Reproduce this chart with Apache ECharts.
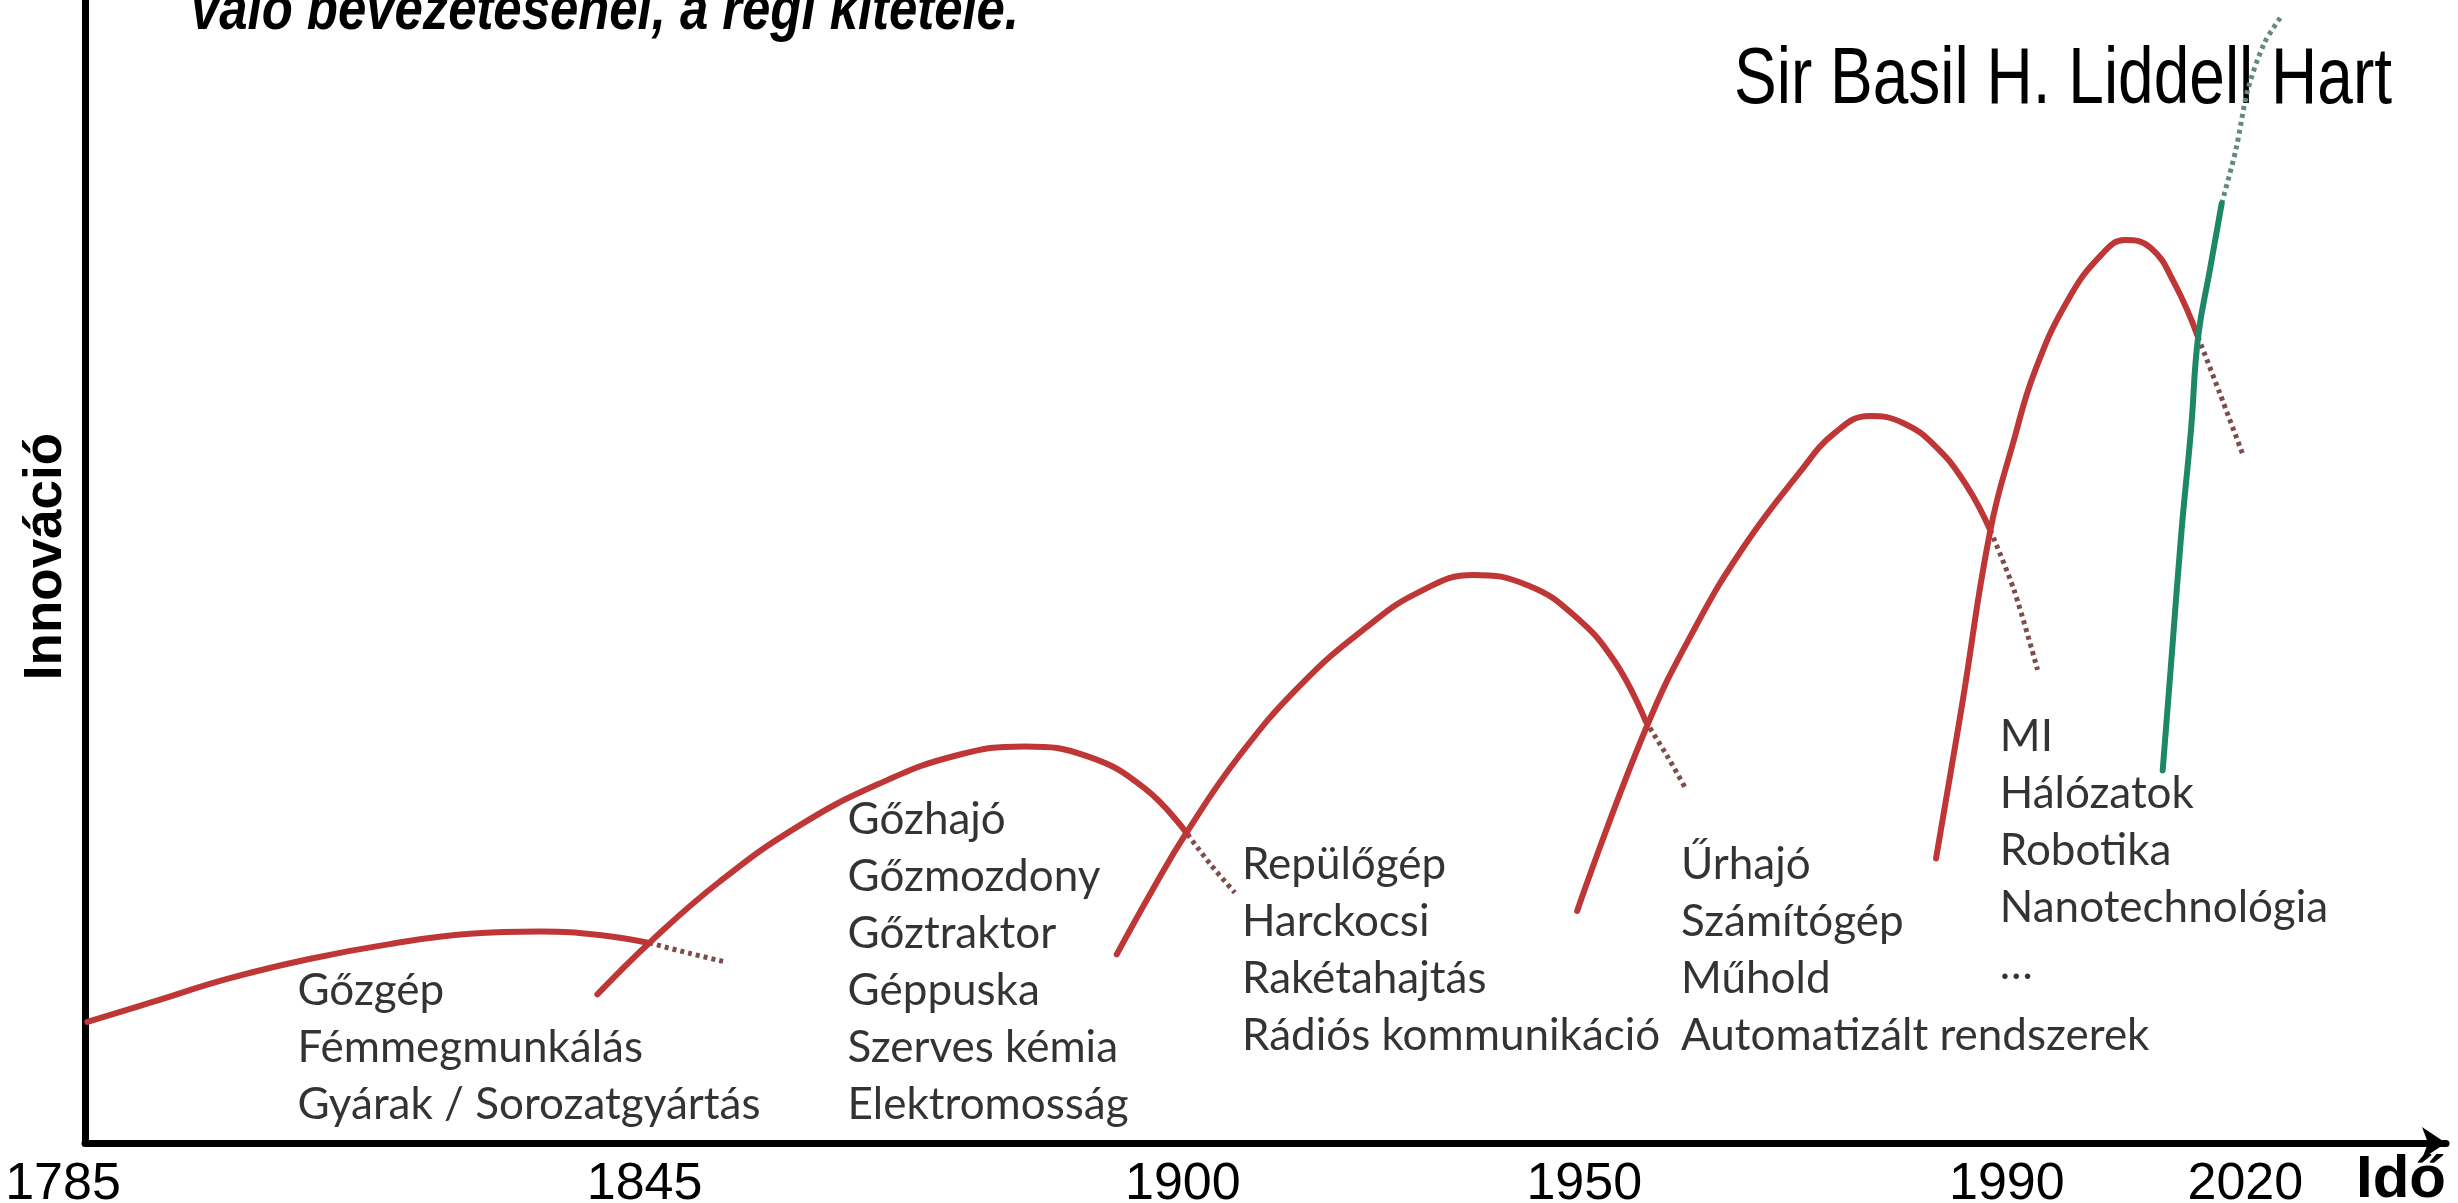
<!DOCTYPE html>
<html><head><meta charset="utf-8">
<script src="https://cdn.jsdelivr.net/npm/echarts@6/dist/echarts.min.js"></script>
<style>html,body{margin:0;padding:0;background:#fff}#chart{width:2458px;height:1203px}</style>
</head><body><div id="chart"></div>
<script>
// schematic time axis (0..100) with year labels at their places
const tickYears = ['1785', '1845', '1900', '1950', '1990', '2020'];
const tickAt = [0, 23.7, 46.5, 63.5, 81.4, 91.5];

// innovation waves: [time position, innovation level]
const wave1 = [[0.1,10.6],[2.8,12.3],[6.1,14.4],[9.5,16.1],[12.9,17.4],[16.3,18.3],[19.3,18.5],[21.8,18.2],[23.9,17.5]];
const wave1Fade = [[23.9,17.5],[25.6,16.6],[27.2,15.8]];
const wave2 = [[21.7,13.0],[24.0,17.7],[26.9,22.9],[30.2,27.7],[33.6,31.4],[36.9,33.9],[39.8,34.7],[42.5,33.8],[44.9,31.0],[46.7,27.0]];
const wave2Fade = [[46.7,27.0],[47.7,24.3],[48.7,21.9]];
const wave3 = [[43.7,16.5],[45.2,22.1],[46.7,27.3],[48.9,33.9],[51.5,40.1],[54.2,45.0],[56.5,48.2],[58.8,49.7],[61.1,48.8],[63.1,46.1],[64.8,42.1],[66.1,36.9]];
const wave3Fade = [[66.1,36.9],[67.0,33.9],[67.8,31.0]];
const wave4 = [[63.2,20.3],[66.1,36.2],[68.2,45.1],[70.3,52.3],[72.6,58.6],[74.1,62.1],[75.6,63.6],[77.0,63.0],[78.4,60.9],[79.7,57.5],[80.7,53.6]];
const wave4Fade = [[80.7,53.6],[81.7,48.4],[82.7,41.4]];
const wave5 = [[78.4,24.9],[79.5,38.3],[80.7,53.6],[81.7,61.5],[82.6,67.6],[84.0,73.8],[85.4,77.7],[86.4,79.0],[87.5,78.3],[88.5,75.2],[89.5,70.5]];
const wave5Fade = [[89.5,70.5],[90.4,65.7],[91.4,60.2]];
const waveNew = [[88.0,32.6],[88.4,43.1],[88.8,53.6],[89.2,62.4],[89.5,70.5],[90.0,76.4],[90.5,82.2]];
const waveNewFade = [[90.5,82.2],[91.1,86.9],[91.6,92.1],[92.3,96.2],[93.0,98.5]];

const innovations = [
  ['Gőzgép', 'Fémmegmunkálás', 'Gyárak / Sorozatgyártás'],
  ['Gőzhajó', 'Gőzmozdony', 'Gőztraktor', 'Géppuska', 'Szerves kémia', 'Elektromosság'],
  ['Repülőgép', 'Harckocsi', 'Rakétahajtás', 'Rádiós kommunikáció'],
  ['Űrhajó', 'Számítógép', 'Műhold', 'Automatizált rendszerek'],
  ['MI', 'Hálózatok', 'Robotika', 'Nanotechnológia', '…']
];
const innovationsAt = [[9.0,15.8],[32.3,30.8],[49.0,26.8],[67.6,26.8],[81.1,38.0]];

const captionText = 'való bevezetésénél, a régi kitétele.';
const authorText = 'Sir Basil H. Liddell Hart';
const xName = 'Idő';
const yName = 'Innováció';

const RED = '#be3636', RED_DOT = '#7e4c49', GREEN = '#1d8767', GREEN_DOT = '#5f8c7e';
const SANS = "'Liberation Sans', Arial, sans-serif";

function solid(data, color) {
  return { type: 'line', data, smooth: 0.45, symbol: 'none', silent: true,
    lineStyle: { color, width: 6, cap: 'round' }, z: 3 };
}
function dotted(data, color) {
  return { type: 'line', data, smooth: 0.3, symbol: 'none', silent: true,
    lineStyle: { color, width: 5, type: [4, 4] }, z: 2 };
}

const chart = echarts.init(document.getElementById('chart'));
chart.setOption({
  animation: false,
  backgroundColor: '#fff',
  graphic: [
    { type: 'text', x: 191, y: 12, scaleX: 0.82, silent: true, z: 10,
      style: { text: captionText, fontFamily: SANS, fontStyle: 'italic', fontWeight: 'bold', fontSize: 62,
        fill: '#000', align: 'left', verticalAlign: 'middle', textAlign: 'left', textVerticalAlign: 'middle' } },
    { type: 'text', x: 1734, y: 81, scaleX: 0.8, silent: true, z: 1,
      style: { text: authorText, fontFamily: SANS, fontSize: 80,
        fill: '#000', align: 'left', verticalAlign: 'middle', textAlign: 'left', textVerticalAlign: 'middle' } }
  ],
  grid: { left: 85, right: 12, top: 0, bottom: 60, outerBoundsMode: 'none', containLabel: false },
  xAxis: {
    type: 'value', min: 0, max: 100,
    splitLine: { show: false }, axisTick: { show: false },
    axisLine: { lineStyle: { color: '#000', width: 7 }, symbol: ['none', 'arrow'], symbolSize: [24, 24] },
    axisLabel: {
      customValues: tickAt, margin: 16,
      fontFamily: SANS, fontSize: 52, color: '#000',
      formatter: v => { const i = tickAt.indexOf(v); return i === 0 ? '{first|' + tickYears[i] + '}' : tickYears[i]; },
      rich: { first: { fontFamily: SANS, fontSize: 52, color: '#000', padding: [0, 44, 0, 0] } }
    },
    name: xName, nameLocation: 'end', nameGap: -90,
    nameTextStyle: { fontFamily: SANS, fontWeight: 'bold', fontSize: 60, color: '#000', align: 'left', verticalAlign: 'top', padding: [7, 0, 0, 0] }
  },
  yAxis: {
    type: 'value', min: 0, max: 100,
    splitLine: { show: false }, axisTick: { show: false }, axisLabel: { show: false },
    axisLine: { lineStyle: { color: '#000', width: 7 } },
    name: yName, nameLocation: 'middle', nameRotate: 90, nameGap: 12,
    nameTextStyle: { fontFamily: SANS, fontWeight: 'bold', fontSize: 53, color: '#000', padding: [0, 0, 0, 30] }
  },
  series: [
    dotted(wave1Fade, RED_DOT), solid(wave1, RED),
    dotted(wave2Fade, RED_DOT), solid(wave2, RED),
    dotted(wave3Fade, RED_DOT), solid(wave3, RED),
    dotted(wave4Fade, RED_DOT), solid(wave4, RED),
    dotted(wave5Fade, RED_DOT), solid(wave5, RED),
    dotted(waveNewFade, GREEN_DOT), solid(waveNew, GREEN),
    {
      type: 'scatter', symbolSize: 0, silent: true, z: 5,
      data: innovationsAt.map((p, i) => ({ value: p, label: { formatter: innovations[i].join('\n') } })),
      label: { show: true, position: [0, 0], align: 'left', verticalAlign: 'top',
        fontFamily: 'Lato, "Open Sans", sans-serif', fontSize: 44, lineHeight: 57, color: '#000' }
    }
  ]
});
</script></body></html>
